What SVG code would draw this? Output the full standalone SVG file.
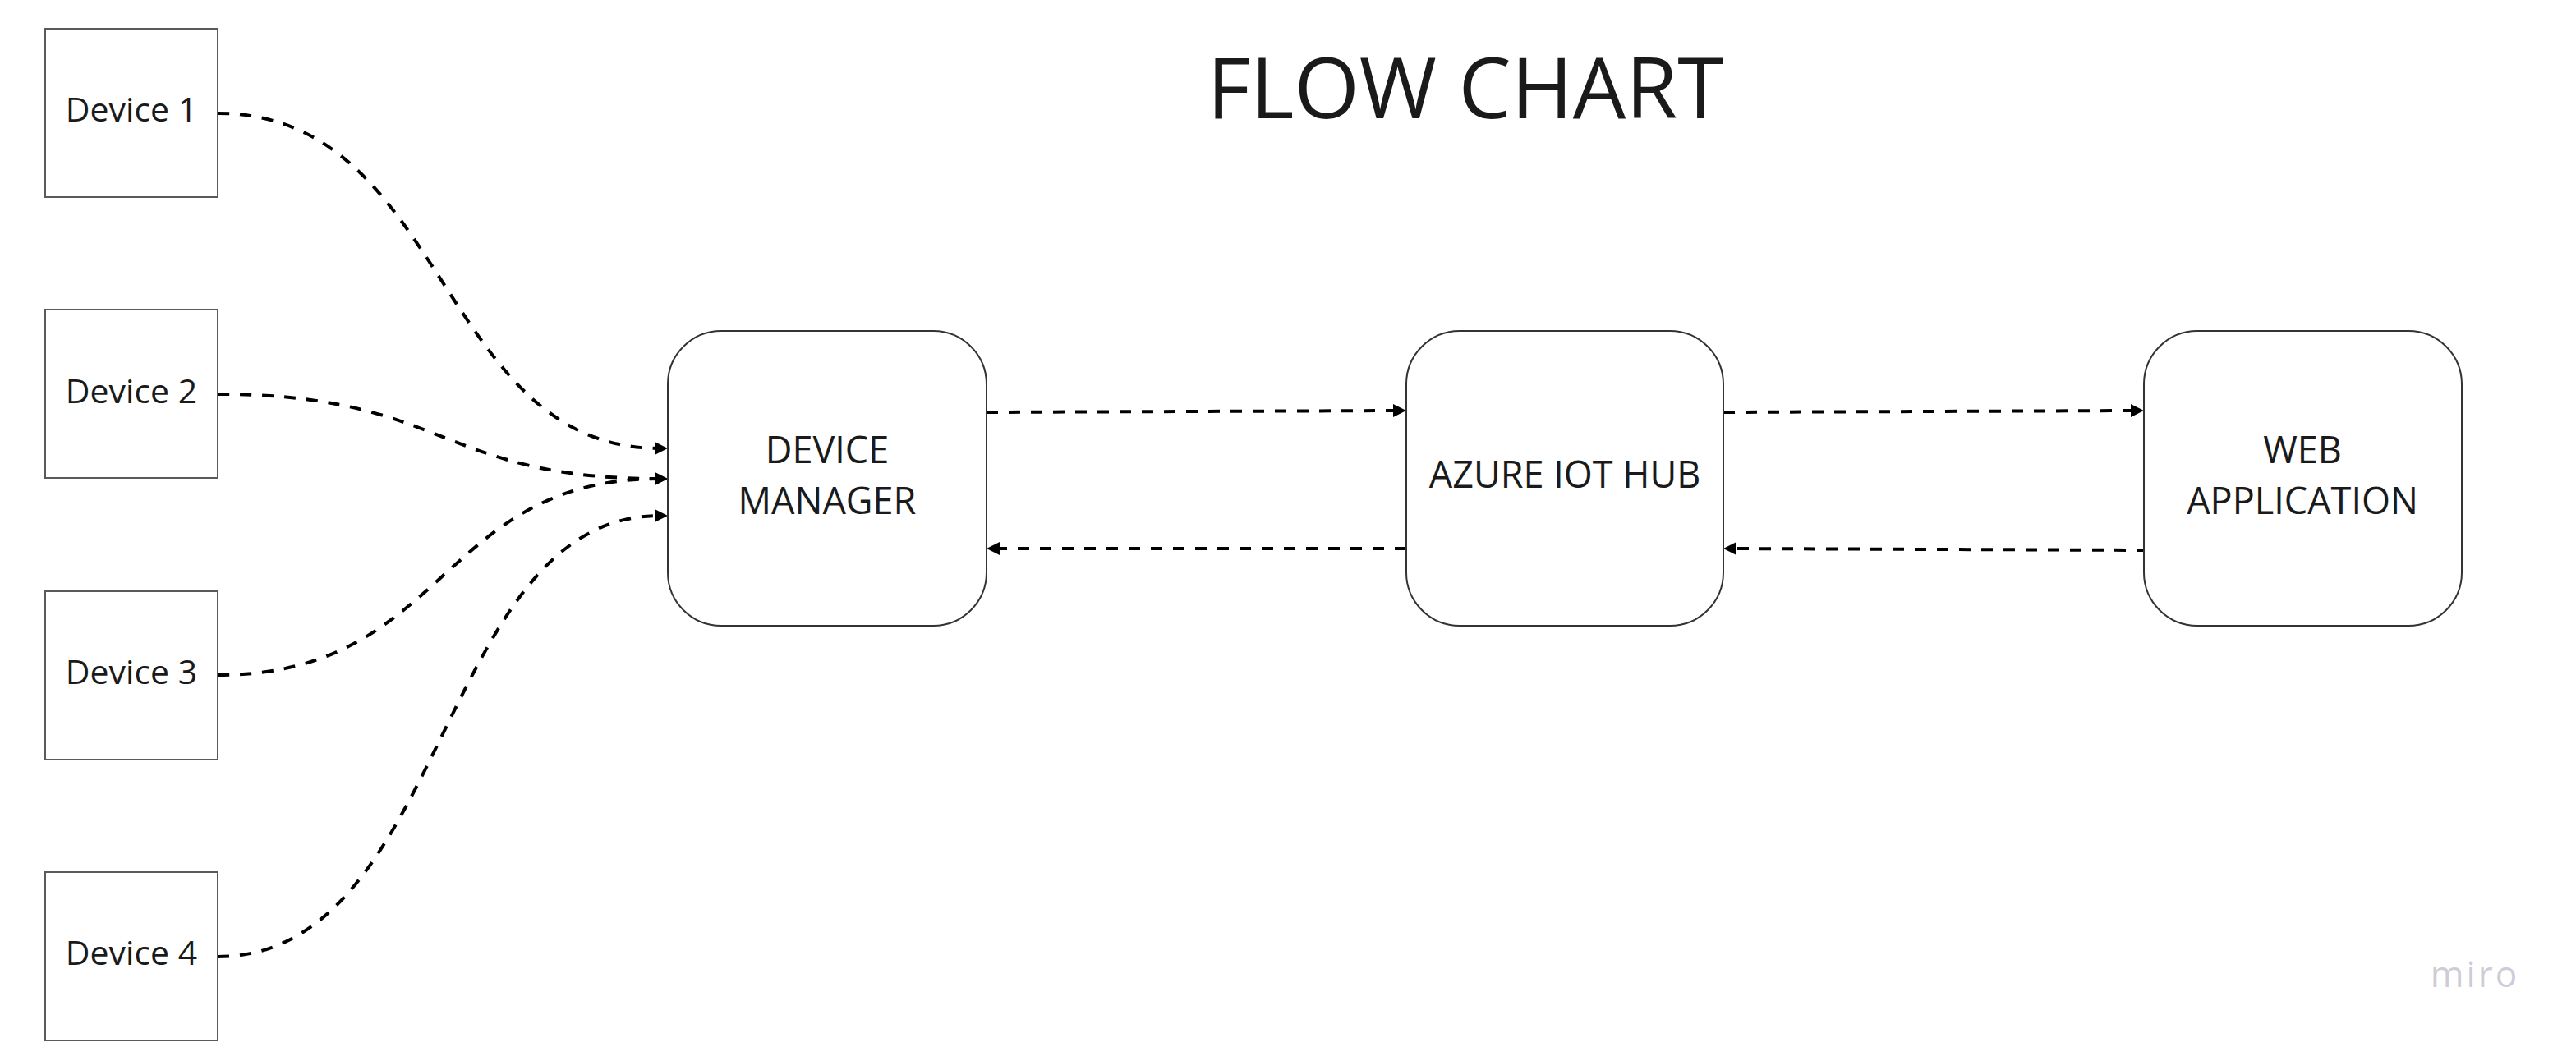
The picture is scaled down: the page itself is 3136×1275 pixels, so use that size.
<svg xmlns="http://www.w3.org/2000/svg" width="3136" height="1275" viewBox="0 0 3136 1275">
<style>
  .dev { fill: #ffffff; stroke: #5a5a5a; stroke-width: 2; }
  .blk { fill: #ffffff; stroke: #333333; stroke-width: 2; }
  .lbl { font-family: "Open Sans", "Noto Sans", "Liberation Sans", sans-serif; fill: #1a1a1a; text-anchor: middle; }
  .dl { font-size: 41px; }
  .bl { font-size: 45px; }
  .con { fill: none; stroke: #000000; stroke-width: 4; stroke-dasharray: 14 13; marker-end: url(#arrow); }
</style>
<defs>
  <marker id="arrow" viewBox="0 0 16 16" markerUnits="userSpaceOnUse" markerWidth="16" markerHeight="16" refX="6" refY="8" orient="auto">
    <path d="M0,0 L16,8 L0,16 Z" fill="#000000"/>
  </marker>
</defs>
<rect width="3136" height="1275" fill="#ffffff"/>
<text x="1784" y="144" class="lbl" font-size="102">FLOW CHART</text>

<g id="connectors">
  <path class="con" d="M265,138 C545,138 533,546 803,546"/>
  <path class="con" d="M265,480 C545,480 533,583 803,583"/>
  <path class="con" d="M265,822 C545,822 533,583 803,583"/>
  <path class="con" d="M265,1165 C545,1165 533,628 803,628"/>
  <path class="con" d="M1201,502 L1702,500"/>
  <path class="con" d="M1712,668 L1211,668"/>
  <path class="con" d="M2098,502 L2600,500"/>
  <path class="con" d="M2615,670 L2108,668"/>
</g>

<g id="device1">
  <rect class="dev" x="55" y="35" width="210" height="205"/>
  <text class="lbl dl" x="160" y="148">Device 1</text>
</g>
<g id="device2">
  <rect class="dev" x="55" y="377" width="210" height="205"/>
  <text class="lbl dl" x="160" y="491">Device 2</text>
</g>
<g id="device3">
  <rect class="dev" x="55" y="720" width="210" height="205"/>
  <text class="lbl dl" x="160" y="833">Device 3</text>
</g>
<g id="device4">
  <rect class="dev" x="55" y="1062" width="210" height="205"/>
  <text class="lbl dl" x="160" y="1175">Device 4</text>
</g>

<g id="device-manager">
  <rect class="blk" x="813" y="403" width="388" height="359" rx="65" ry="65"/>
  <text class="lbl bl" x="1007" y="564">DEVICE</text>
  <text class="lbl bl" x="1007" y="626">MANAGER</text>
</g>
<g id="azure-iot-hub">
  <rect class="blk" x="1712" y="403" width="386" height="359" rx="65" ry="65"/>
  <text class="lbl bl" x="1905" y="594">AZURE IOT HUB</text>
</g>
<g id="web-application">
  <rect class="blk" x="2610" y="403" width="387" height="359" rx="65" ry="65"/>
  <text class="lbl bl" x="2803" y="564">WEB</text>
  <text class="lbl bl" x="2803" y="626">APPLICATION</text>
</g>

<text x="3013" y="1202" font-family="'Open Sans', 'Noto Sans', sans-serif" font-weight="500" font-size="44" letter-spacing="3" fill="#cdcdd8" text-anchor="middle">miro</text>
</svg>
